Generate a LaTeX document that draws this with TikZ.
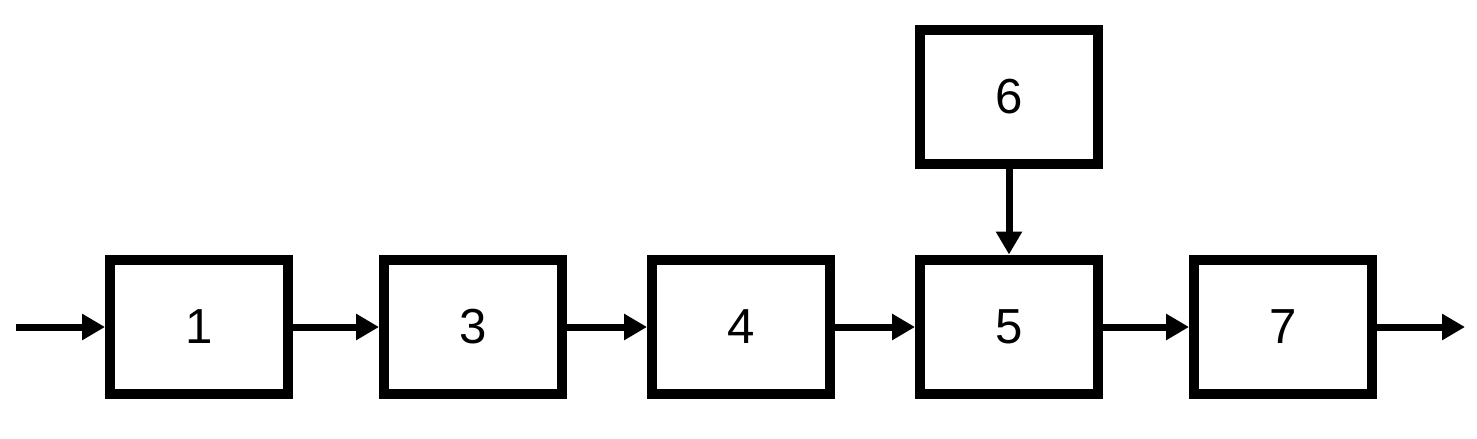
\documentclass[tikz,border=0pt]{standalone}
\usepackage{fontspec}
\setmainfont{Liberation Sans}
\usetikzlibrary{arrows.meta}
\begin{document}
\begin{tikzpicture}[x=0.02cm, y=-0.02cm,
   block/.style={draw, line width=0.2cm, minimum width=3.56cm, minimum height=2.7cm,
     font=\fontsize{28}{30}\selectfont},
   flow/.style={line width=0.14cm, -{Triangle[length=0.46cm, width=0.5cm]}}]
   \useasboundingbox (0,0) rectangle (1477,439);
   \node [block] (b1) at (199,327) {1};
   \node [block] (b3) at (473,327) {3};
   \node [block] (b4) at (741,327) {4};
   \node [block] (b5) at (1009,327) {5};
   \node [block] (b7) at (1283,327) {7};
   \node [block] (b6) at (1009,97) {6};
   \coordinate (in) at (16,327);
   \coordinate (out) at (1465,327);
   \draw [flow] (in) -- (b1);
   \draw [flow] (b1) -- (b3);
   \draw [flow] (b3) -- (b4);
   \draw [flow] (b4) -- (b5);
   \draw [flow] (b5) -- (b7);
   \draw [flow] (b7) -- (out);
   \draw [flow] (b6) -- (b5);
 \end{tikzpicture}
\end{document}
